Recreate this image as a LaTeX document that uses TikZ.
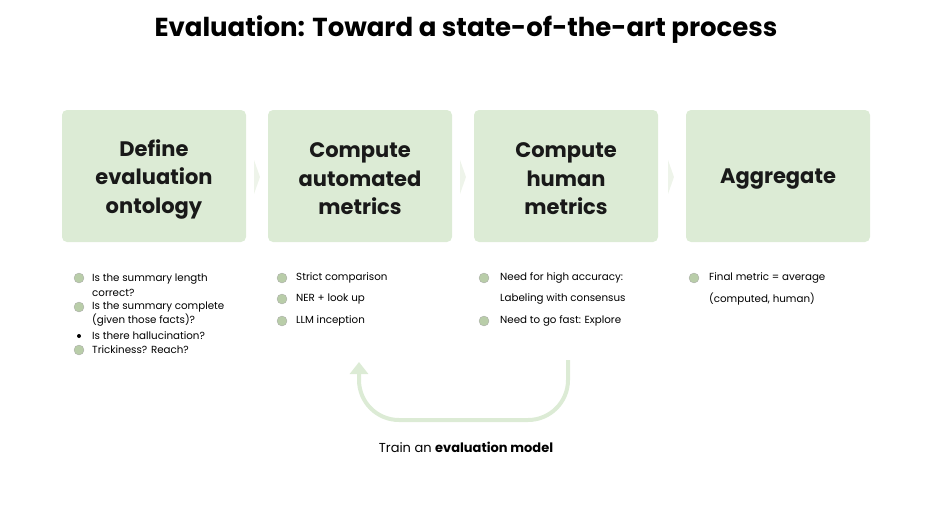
\documentclass[tikz,border=0pt]{standalone}
\usepackage{fontspec}
\setmainfont{Poppins}
\usetikzlibrary{arrows.meta}
\definecolor{boxg}{HTML}{DCEBD5}
\definecolor{icong}{HTML}{B9CDA9}
\definecolor{chev}{HTML}{EEF4EA}
\begin{document}
\begin{tikzpicture}[x=1pt,y=-1pt,
  stepbox/.style={fill=boxg,rounded corners=5pt,minimum width=184pt,minimum height=132pt},
  steptext/.style={align=center,font=\bfseries\fontsize{21}{28.5}\selectfont,text=black!90},
  item/.style={anchor=west,font=\fontsize{10.3}{14.5}\selectfont,inner sep=0pt,align=left},
  ic/.style={circle,fill=icong,draw=gray!70,line width=0.3pt,minimum size=10pt,inner sep=0pt},
  dot/.style={circle,fill=black,minimum size=4pt,inner sep=0pt},
  chevr/.style={fill=chev,draw=none}]
\useasboundingbox (0,0) rectangle (933,511);
\node (title) at (466,30) {\bfseries\fontsize{26}{30}\selectfont Evaluation: Toward a state-of-the-art process};
\node[stepbox] (b1) at (154,176) {};
\node[stepbox] (b2) at (360,176) {};
\node[stepbox] (b3) at (566,176) {};
\node[stepbox] (b4) at (778,176) {};
\node[steptext] (s1) at (154,179) {Define\\evaluation\\ontology};
\node[steptext] (s2) at (360,179) {Compute\\automated\\metrics};
\node[steptext] (s3) at (566,179) {Compute\\human\\metrics};
\node[steptext] (s4) at (778,179) {Aggregate};
\foreach \x in {254,460,668}{\fill[chev] (\x,160) -- (\x+6,177) -- (\x,194) -- cycle;}
% column 1
\node[ic] (i11) at (79,278) {};
\node[item] (t11) at (92,285) {Is the summary length\\correct?};
\node[ic] (i12) at (79,307) {};
\node[item] (t12) at (92,314) {Is the summary complete\\(given those facts)?};
\node[dot] (i13) at (79,336) {};
\node[item] (t13) at (92,336) {Is there hallucination?};
\node[ic] (i14) at (79,350) {};
\node[item] (t14) at (92,350) {Trickiness? Reach?};
% column 2
\node[ic] (i21) at (282,278) {};
\node[item] (t21) at (296,278) {Strict comparison};
\node[ic] (i22) at (282,299) {};
\node[item] (t22) at (296,299) {NER + look up};
\node[ic] (i23) at (282,321) {};
\node[item] (t23) at (296,321) {LLM inception};
% column 3
\node[ic] (i31) at (484,278) {};
\node[item] (t31) at (500,278) {Need for high accuracy:};
\node[item] (t32) at (500,299) {Labeling with consensus};
\node[ic] (i33) at (484,321) {};
\node[item] (t33) at (500,321) {Need to go fast: Explore};
% column 4
\node[ic] (i41) at (694,278) {};
\node[item] (t41) at (709,278) {Final metric = average};
\node[item] (t42) at (709,299) {(computed, human)};
% loop
\coordinate (ls) at (568,360);
\coordinate (le) at (359,362);
\draw[boxg,line width=4pt,-{Triangle[length=12pt,width=18pt]}] (ls) -- (568,380) arc[start angle=0,end angle=90,radius=40] -- (399,420) arc[start angle=90,end angle=180,radius=40] -- (le);
\node (lbl) at (466,447) {\fontsize{13}{16}\selectfont Train an \textbf{evaluation model}};
\end{tikzpicture}
\end{document}
